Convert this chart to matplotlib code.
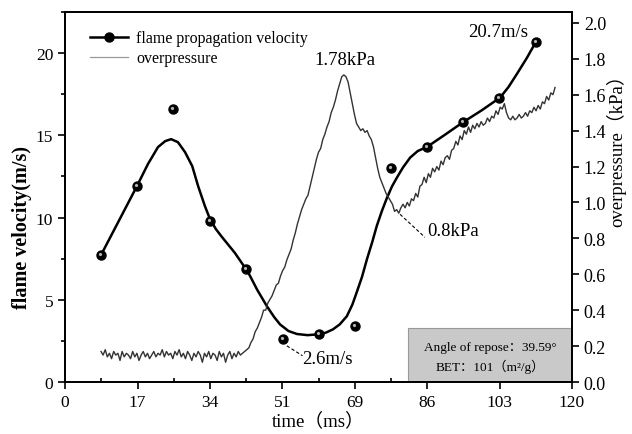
"""Flame propagation velocity and overpressure versus time."""

import matplotlib
import numpy as np

matplotlib.use("Agg")
import matplotlib.pyplot as plt
from matplotlib.lines import Line2D
from matplotlib.patches import Rectangle
from matplotlib.ticker import FixedLocator, FormatStrFormatter, MultipleLocator
from matplotlib.transforms import offset_copy

plt.rcParams["font.family"] = ["Liberation Serif", "Noto Sans CJK SC"]

# measured flame velocity points (ms, m/s)
point_t = [8.5, 17.0, 25.6, 34.3, 42.8, 51.5, 60.1, 68.6, 77.2, 85.7, 94.2, 102.7, 111.5]
point_v = [7.7, 11.9, 16.6, 9.8, 6.9, 2.6, 2.9, 3.4, 13.0, 14.3, 15.8, 17.3, 20.7]

# fitted velocity curve
curve_t = [8.5, 17.0, 19.6, 22.0, 23.7, 25.1, 26.7, 28.4, 30.1, 31.5, 33.1, 34.3,
           35.7, 37.2, 40.2, 43.3, 45.5, 47.8, 49.5, 50.9, 52.9, 54.9, 57.4, 59.9, 61.7, 63.4,
           65.0, 66.7, 68.0, 69.1, 70.3, 71.5, 72.7, 73.8, 75.0, 76.2, 77.4, 78.6,
           80.0, 81.7, 83.5, 85.7, 90.0, 94.2, 98.5, 103.0, 105.0, 107.0, 109.3, 111.5]
curve_v = [7.72, 11.91, 13.25, 14.29, 14.65, 14.77, 14.59, 13.98, 13.13, 11.91, 10.70, 9.91,
           9.30, 8.80, 7.85, 6.69, 5.60, 4.60, 3.95, 3.50, 3.10, 2.92, 2.85, 2.90, 3.00, 3.20,
           3.50, 4.00, 4.70, 5.50, 6.40, 7.50, 8.50, 9.50, 10.40, 11.20, 11.90, 12.45,
           13.05, 13.65, 14.05, 14.30, 15.05, 15.80, 16.50, 17.30, 17.95, 18.75, 19.70, 20.70]

# overpressure trace (kPa), sampled every 0.5 ms, in four segments
base_start = 8.5
base_p = [0.17, 0.15, 0.18, 0.14, 0.16, 0.13, 0.17, 0.15, 0.16, 0.12,
          0.17, 0.14, 0.16, 0.15, 0.13, 0.17, 0.14, 0.16, 0.12, 0.15,
          0.17, 0.14, 0.16, 0.13, 0.15, 0.17, 0.14, 0.16, 0.15, 0.18,
          0.14, 0.17, 0.15, 0.16, 0.13, 0.17, 0.15, 0.18, 0.14, 0.16,
          0.13, 0.17, 0.15, 0.12, 0.16, 0.14, 0.17, 0.15, 0.11, 0.16,
          0.14, 0.17, 0.13, 0.16, 0.15, 0.12, 0.17, 0.14, 0.16, 0.11,
          0.15, 0.17, 0.13, 0.16, 0.14, 0.17, 0.15, 0.16, 0.17]
rise_start = 43.0
rise_p = [0.18, 0.19, 0.22, 0.24, 0.28, 0.30, 0.33, 0.36, 0.40, 0.40,
          0.44, 0.46, 0.48, 0.51, 0.54, 0.55, 0.59, 0.62, 0.64, 0.68,
          0.71, 0.74, 0.79, 0.83, 0.88, 0.92, 0.96, 0.99, 1.02, 1.04,
          1.09, 1.14, 1.19, 1.24, 1.28, 1.30, 1.35, 1.38, 1.42, 1.45,
          1.50, 1.53, 1.57, 1.62, 1.66, 1.70, 1.71]
fall_start = 66.5
fall_p = [1.70, 1.67, 1.61, 1.55, 1.49, 1.44, 1.42, 1.40, 1.41, 1.39,
          1.40, 1.37, 1.35, 1.31, 1.25, 1.19, 1.14, 1.11, 1.08, 1.05,
          1.03, 1.01, 0.99, 0.95, 0.96, 0.94, 0.97, 0.99]
late_start = 80.5
late_p = [0.97, 1.00, 0.98, 1.02, 1.01, 1.05, 1.03, 1.09, 1.10, 1.14,
          1.11, 1.16, 1.14, 1.19, 1.17, 1.20, 1.18, 1.23, 1.21, 1.25,
          1.26, 1.24, 1.29, 1.30, 1.34, 1.32, 1.37, 1.35, 1.40, 1.38,
          1.42, 1.39, 1.43, 1.41, 1.44, 1.42, 1.45, 1.43, 1.44, 1.47,
          1.45, 1.48, 1.47, 1.51, 1.49, 1.53, 1.52, 1.55, 1.50, 1.47,
          1.46, 1.48, 1.46, 1.47, 1.49, 1.47, 1.48, 1.50, 1.48, 1.51,
          1.50, 1.53, 1.51, 1.54, 1.52, 1.56, 1.55, 1.59, 1.57, 1.61,
          1.60, 1.64]

x_ticks = np.linspace(0, 120, 8)
x_tick_labels = ["0", "17", "34", "51", "69", "86", "103", "120"]


def segment(start, values):
    return start + 0.5 * np.arange(len(values)), np.asarray(values)


segs = [segment(base_start, base_p), segment(rise_start, rise_p),
        segment(fall_start, fall_p), segment(late_start, late_p)]
p_t = np.concatenate([s[0] for s in segs])
p_v = np.concatenate([s[1] for s in segs])

fig = plt.figure(figsize=(6.32, 4.35), dpi=100)
ax = fig.add_axes([0.103, 0.1195, 0.802, 0.8505])
ax2 = ax.twinx()

# velocity
ax.plot(curve_t, curve_v, color="black", lw=1.8, zorder=3)
ax.plot(point_t, point_v, "o", ms=6.5, color="black", zorder=4)
hl = offset_copy(ax.transData, fig=fig, x=-1.0, y=1.0, units="dots")
ax.plot(point_t, point_v, "o", ms=2.3, color="#b5b5b5", mec="none", transform=hl, zorder=5)

# overpressure
ax2.plot(p_t, p_v, color="#333333", lw=1.0)

ax.set_xlim(0, 120)
ax.set_ylim(0, 22.5)
ax2.set_ylim(0, 2.06)

ax.xaxis.set_major_locator(FixedLocator(x_ticks))
ax.set_xticklabels(x_tick_labels)
ax.xaxis.set_minor_locator(FixedLocator((x_ticks[:-1] + x_ticks[1:]) / 2))
ax.yaxis.set_major_locator(MultipleLocator(5))
ax.yaxis.set_minor_locator(MultipleLocator(2.5))
ax2.yaxis.set_major_locator(MultipleLocator(0.2))
ax2.yaxis.set_major_formatter(FormatStrFormatter("%.1f"))

ax.tick_params(axis="x", which="major", direction="out", length=5, width=1.2, labelsize=12.5)
ax.tick_params(axis="x", which="minor", direction="in", length=3, width=1.2)
ax.tick_params(axis="y", which="major", direction="out", length=5, width=1.2, labelsize=12.5)
ax.tick_params(axis="y", which="minor", direction="out", length=3, width=1.2)
ax2.tick_params(axis="y", which="major", direction="out", length=5, width=1.2, labelsize=13)
for a in (ax, ax2):
    for sp in a.spines.values():
        sp.set_linewidth(1.3)

ax.set_xlabel("time（ms）", fontsize=13.5)
ax.xaxis.set_label_coords(0.499, -0.08)
ax.set_ylabel("flame velocity(m/s)", fontsize=14.5, fontweight="bold")
ax.yaxis.set_label_coords(-0.065, 0.42)
ax2.set_ylabel("overpressure（kPa）", fontsize=13.5)
ax2.yaxis.set_label_coords(1.068, 0.64)

# info box
ax.add_patch(Rectangle((81.2, 0), 38.8, 3.28, facecolor="#c9c9c9",
                       edgecolor="#9a9a9a", lw=0.8, zorder=2))
ax.text(100.6, 2.15, "Angle of repose：39.59°", ha="center", va="center", fontsize=9.5, zorder=6)
ax.text(100.6, 0.97, "BET：101（m²/g）", ha="center", va="center", fontsize=9.5, zorder=6)

# annotations
ax.text(66.3, 19.6, "1.78kPa", ha="center", va="center", fontsize=13.5)
ax.text(102.5, 21.3, "20.7m/s", ha="center", va="center", fontsize=13.5)
ax.text(62.0, 1.4, "2.6m/s", ha="center", va="center", fontsize=13.5)
ax.text(91.8, 9.2, "0.8kPa", ha="center", va="center", fontsize=13.5)
ax.plot([52.5, 56.2], [2.2, 1.6], "k--", lw=0.8, dashes=(3, 2))
ax.plot([79.3, 85.2], [10.2, 8.8], "k--", lw=0.8, dashes=(3, 2))

handles = [Line2D([], [], color="black", lw=1.8, marker="o", ms=6.5),
           Line2D([], [], color="#9a9a9a", lw=0.9)]
ax.legend(handles, ["flame propagation velocity", "overpressure"], loc="upper left",
          bbox_to_anchor=(0.02, 0.99), frameon=False, fontsize=11.5,
          handlelength=2.4, labelspacing=0.25, handletextpad=0.5)

fig.savefig("out.png", dpi=100)
plt.close(fig)
